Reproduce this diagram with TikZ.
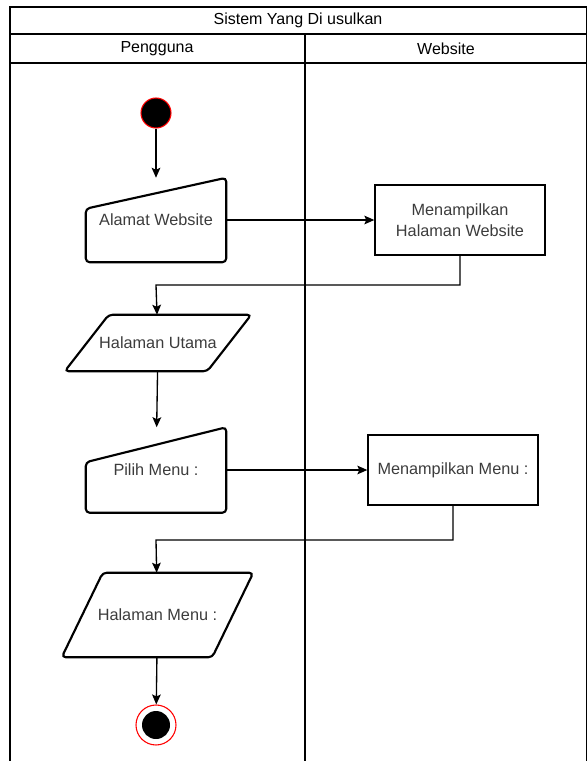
\documentclass[tikz,border=0pt]{standalone}
\usepackage{fontspec}
\setmainfont{Liberation Sans}
\usetikzlibrary{arrows.meta,calc}
\definecolor{teksabu}{HTML}{3C3C3C}
\definecolor{merah}{HTML}{FF0000}
\tikzset{
	judul/.style={font=\fontsize{12}{14}\selectfont, text=black},
	teks/.style={font=\fontsize{12.2}{15.5}\selectfont, text=teksabu, align=center, inner sep=0pt},
	garis/.style={line width=1pt, draw=black},
	tebal/.style={line width=1.6pt, draw=black, rounded corners=3pt},
	manual/.style={teks, minimum width=105pt, minimum height=63pt},
	proses/.style={teks, garis, rectangle, minimum width=127.5pt, minimum height=52.5pt},
	mulaidot/.style={circle, fill=black, draw=merah, line width=0.8pt, minimum size=22.5pt, inner sep=0pt},
	akhirdot/.style={circle, fill=white, draw=merah, line width=0.8pt, minimum size=30pt, inner sep=0pt,
		path picture={\fill[black] (path picture bounding box.center) circle (10.5pt);}},
	panah/.style={line width=1pt, -{Stealth[length=7.5pt, width=6.5pt, inset=1.5pt]}}
}
\begin{document}
\begin{tikzpicture}[x=0.75pt, y=-0.75pt]
	\useasboundingbox (0,0) rectangle (588,761);
	% Swimlane
	\draw[garis] (10,761) -- (10,7) -- (586.5,7) -- (586.5,761);
	\draw[garis] (10,34) -- (586.5,34);
	\draw[garis] (10,63) -- (586.5,63);
	\draw[garis] (305,34) -- (305,761);
	\node[judul] (sistem) at (298,20.5) {Sistem Yang Di usulkan};
	\node[judul] (pengguna) at (157,49) {Pengguna};
	\node[judul] (website) at (446,49) {Website};
	% Node
	\node[mulaidot] (mulai) at (156,113) {};
	\node[manual] (alamat) at (156,220) {Alamat Website};
	\node[proses] (web1) at (460,220) {Menampilkan\\Halaman Website};
	\node[teks, minimum width=139.5pt, minimum height=42pt] (utama) at (158,343) {Halaman Utama};
	\node[manual, minimum height=63.75pt] (pilih) at (156,470) {Pilih Menu :};
	\node[proses] (web2) at (453,470) {Menampilkan Menu :};
	\node[teks, minimum width=143.25pt, minimum height=63pt] (menu) at (157.5,615) {Halaman Menu :};
	\node[akhirdot] (selesai) at (156,725) {};
	% Bentuk
	\draw[tebal] (alamat.south west) -- (alamat.south east) -- (alamat.north east)
		-- ($(alamat.north west)+(0,31)$) -- cycle;
	\draw[tebal] (pilih.south west) -- (pilih.south east) -- (pilih.north east)
		-- ($(pilih.north west)+(0,35)$) -- cycle;
	\draw[tebal] (utama.south west) -- ($(utama.north west)+(44,0)$) -- (utama.north east)
		-- ($(utama.south east)-(44,0)$) -- cycle;
	\draw[tebal] (menu.south west) -- ($(menu.north west)+(41,0)$) -- (menu.north east)
		-- ($(menu.south east)-(41,0)$) -- cycle;
	% Panah
	\coordinate (belok1) at (156,285);
	\coordinate (belok2) at (156,540);
	\draw[panah] (mulai) -- (alamat);
	\draw[panah] (alamat) -- (web1);
	\draw[panah] (web1.south) |- (belok1) -- (utama);
	\draw[panah] (utama) -- (pilih);
	\draw[panah] (pilih) -- (web2);
	\draw[panah] (web2.south) |- (belok2) -- (menu);
	\draw[panah] (menu) -- (selesai);
\end{tikzpicture}
\end{document}
